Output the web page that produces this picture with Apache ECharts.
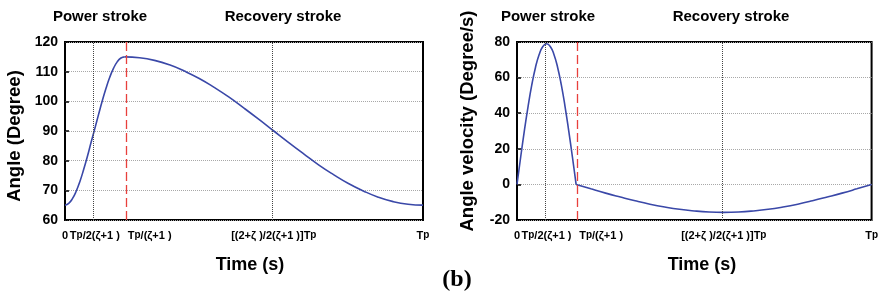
<!DOCTYPE html>
<html>
<head>
<meta charset="utf-8">
<script src="https://cdn.jsdelivr.net/npm/echarts@6/dist/echarts.min.js"></script>
<style>
  html, body { margin: 0; padding: 0; background: #fff; }
  #main { width: 881px; height: 294px; }
</style>
</head>
<body>
<div id="main"></div>
<script>
// time as fraction of the period Tp (zeta ~ 5)
const tickPos = [0, 0.0833, 0.1667, 0.5833, 1];
const tickLabels = ['0', 'Tp/2(ζ+1 )', 'Tp/(ζ+1 )', '[(2+ζ )/2(ζ+1 )]Tp', 'Tp'];

// power stroke samples
const tPower = [0, 0.0104, 0.0208, 0.0313, 0.0417, 0.0521, 0.0625, 0.0729, 0.0833,
  0.0938, 0.1042, 0.1146, 0.125, 0.1354, 0.1458, 0.1563, 0.1667];
const anglePower = [65, 65.6, 67.2, 69.7, 73, 77, 81.4, 86.2, 90.8,
  95.6, 100.2, 104.4, 108.1, 111.1, 113.3, 114.6, 115];
const velPower = [0, 15.4, 30.2, 43.9, 55.9, 65.7, 73, 77.5, 79,
  77.5, 73, 65.7, 55.9, 43.9, 30.2, 15.4, 0];

// recovery stroke samples
const tRecovery = [0.1667, 0.2083, 0.25, 0.2917, 0.3333, 0.375, 0.4167, 0.4583, 0.5, 0.5417,
  0.5833, 0.625, 0.6667, 0.7083, 0.75, 0.7917, 0.8333, 0.875, 0.9167, 0.9583, 1];
const angleRecovery = [115, 114.7, 113.8, 112.3, 110.2, 107.7, 104.7, 101.4, 97.7, 93.9,
  90, 86.1, 82.3, 78.6, 75.3, 72.3, 69.8, 67.7, 66.2, 65.3, 65];
const velRecovery = [0, -2.5, -4.9, -7.1, -9.2, -11.1, -12.7, -14, -14.9, -15.5,
  -15.7, -15.5, -14.9, -14, -12.7, -11.1, -9.2, -7.1, -4.9, -2.5, 0];

const pairs = (xs, ys) => xs.map((x, i) => [x, ys[i]]);

const lineColor = '#3a48a8';
const font = 'Liberation Sans, Arial, sans-serif';

function xLabel(v) {
  const i = tickPos.findIndex(p => Math.abs(p - v) < 1e-3);
  if (i < 0) return '';
  let s = tickLabels[i].replace(/Tp/g, 'T{p|p}');
  if (i === 2) s = '{pad| }' + s;
  return s;
}

function makeX(gi) {
  return {
    type: 'value', gridIndex: gi, min: 0, max: 1,
    axisLine: { show: false },
    axisTick: { show: false },
    splitLine: { show: false },
    axisLabel: {
      customValues: tickPos,
      showMinLabel: true, showMaxLabel: true,
      formatter: xLabel,
      margin: 10,
      color: '#000', fontFamily: font, fontWeight: 'bold', fontSize: 11,
      rich: {
        p: { fontFamily: font, fontWeight: 'bold', fontSize: 10, color: '#000' },
        pad: { width: 50 }
      }
    }
  };
}

function makeY(gi, min, max, step) {
  return {
    type: 'value', gridIndex: gi, min: min, max: max, interval: step,
    axisLine: { show: false },
    axisTick: { show: true, inside: true, length: 4, lineStyle: { color: '#000', width: 1.5 } },
    splitLine: { show: true, lineStyle: { type: 'dotted', color: '#a8a8a8', width: 1 } },
    axisLabel: { color: '#000', fontFamily: font, fontWeight: 'bold', fontSize: 14, margin: 7 }
  };
}

function guides(gi) {
  return {
    type: 'line', xAxisIndex: gi, yAxisIndex: gi, data: [], silent: true,
    markLine: {
      symbol: 'none', silent: true, animation: false,
      label: { show: false },
      data: [
        { xAxis: tickPos[1], lineStyle: { type: 'dotted', color: '#444', width: 1 } },
        { xAxis: tickPos[3], lineStyle: { type: 'dotted', color: '#444', width: 1 } },
        { xAxis: tickPos[2], lineStyle: { type: [9, 4], color: '#e8403c', width: 1.3 } }
      ]
    }
  };
}

function curve(gi, data) {
  return {
    type: 'line', xAxisIndex: gi, yAxisIndex: gi, data: data,
    smooth: true, showSymbol: false, animation: false,
    lineStyle: { color: lineColor, width: 1.6 }
  };
}

function txt(text, x, y, size, extra) {
  return Object.assign({
    type: 'text', x: x, y: y,
    style: {
      text: text, fill: '#000', align: 'center', verticalAlign: 'middle',
      font: 'bold ' + size + 'px ' + font
    }
  }, extra || {});
}

const chart = echarts.init(document.getElementById('main'));
chart.setOption({
  animation: false,
  grid: [
    { left: 65, right: 458, top: 42, bottom: 74, show: true, borderColor: '#000', borderWidth: 2, backgroundColor: 'transparent' },
    { left: 517, right: 7, top: 42, bottom: 74, show: true, borderColor: '#000', borderWidth: 2, backgroundColor: 'transparent' }
  ],
  xAxis: [makeX(0), makeX(1)],
  yAxis: [makeY(0, 60, 120, 10), makeY(1, -20, 80, 20)],
  series: [
    guides(0), guides(1),
    curve(0, pairs(tPower, anglePower)),
    curve(0, pairs(tRecovery, angleRecovery)),
    curve(1, pairs(tPower, velPower)),
    curve(1, pairs(tRecovery, velRecovery))
  ],
  graphic: [
    txt('Power stroke', 100, 17, 15),
    txt('Recovery stroke', 283, 17, 15),
    txt('Power stroke', 548, 17, 15),
    txt('Recovery stroke', 731, 17, 15),
    txt('Angle (Degree)', 15, 136, 18.5, { rotation: Math.PI / 2 }),
    txt('Angle velocity (Degree/s)', 468, 121, 18.5, { rotation: Math.PI / 2 }),
    txt('Time (s)', 250, 265, 18),
    txt('Time (s)', 702, 265, 18),
    {
      type: 'text', x: 457, y: 280,
      style: { text: '(b)', fill: '#000', align: 'center', verticalAlign: 'middle',
        font: 'bold 24px Liberation Serif, Times New Roman, serif' }
    }
  ]
});
</script>
</body>
</html>
